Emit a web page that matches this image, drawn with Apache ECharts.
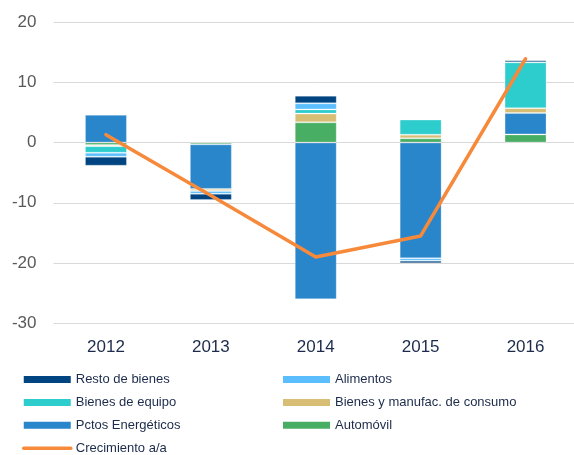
<!DOCTYPE html>
<html>
<head>
<meta charset="utf-8">
<script src="https://cdn.jsdelivr.net/npm/echarts@6/dist/echarts.min.js"></script>
<style>
  html, body { margin: 0; padding: 0; background: #fff; overflow: hidden; }
  #chart { width: 578px; height: 455px; }
</style>
</head>
<body>
<div id="chart"></div>
<script>
var years = ['2012', '2013', '2014', '2015', '2016'];
// componentes (puntos porcentuales)
var automovil   = [-0.4, -0.3, 3.35, 0.7, 1.35];
var energeticos = [4.6, -7.4, -26.0, -19.2, 3.55];
var manufac     = [-0.2, -0.35, 1.45, 0.6, 0.8];
var equipo      = [-1.1, 0, 0.7, 2.5, 7.6];
var alimentos   = [-0.65, -0.45, 1.0, -0.4, 0];
var resto       = [-1.5, -1.05, 1.27, -0.45, 0.35];
var crecimiento = [1.3, -8.8, -19.0, -15.5, 13.9];

var font = 'Liberation Sans, Arial, sans-serif';

function barSeries(name, data, color) {
    return {
        name: name,
        type: 'bar',
        stack: 'total',
        barWidth: '40%',
        data: data,
        itemStyle: {
            color: color,
            borderColor: 'rgba(255,255,255,0.25)',
            borderWidth: 1
        }
    };
}

var legendCommon = {
    orient: 'vertical',
    top: 372.5,
    padding: 0,
    height: 90,
    itemWidth: 47,
    itemHeight: 7,
    itemGap: 8.9,
    itemStyle: {borderWidth: 0},
    textStyle: {fontFamily: font, fontSize: 13, color: '#1c2b4b', lineHeight: 14}
};

var myChart = echarts.init(document.getElementById('chart'));
myChart.setOption({
    backgroundColor: '#fff',
    animation: false,
    grid: {left: 53.5, right: 0, top: 22, bottom: 131.7},
    legend: [
        Object.assign({}, legendCommon, {
            left: 22,
            data: [
                {name: 'Resto de bienes', icon: 'rect'},
                {name: 'Bienes de equipo', icon: 'rect'},
                {name: 'Pctos Energéticos', icon: 'rect'},
                {name: 'Crecimiento a/a', itemStyle: {opacity: 0}, lineStyle: {width: 3.5, cap: 'round'}}
            ]
        }),
        Object.assign({}, legendCommon, {
            left: 283,
            data: [
                {name: 'Alimentos', icon: 'rect'},
                {name: 'Bienes y manufac. de consumo', icon: 'rect'},
                {name: 'Automóvil', icon: 'rect'}
            ]
        })
    ],
    xAxis: {
        type: 'category',
        data: years,
        axisLine: {show: false},
        axisTick: {show: false},
        axisLabel: {fontFamily: font, fontSize: 17, color: '#1c2b4b', margin: 16}
    },
    yAxis: {
        type: 'value',
        min: -30,
        max: 20,
        interval: 10,
        axisLine: {show: false},
        axisTick: {show: false},
        axisLabel: {fontFamily: font, fontSize: 17, color: '#595959', margin: 17},
        splitLine: {lineStyle: {color: '#d9d9d9', width: 1}}
    },
    series: [
        barSeries('Automóvil', automovil, '#48ae64'),
        barSeries('Pctos Energéticos', energeticos, '#2a86ca'),
        barSeries('Bienes y manufac. de consumo', manufac, '#d8be75'),
        barSeries('Bienes de equipo', equipo, '#2dcccd'),
        barSeries('Alimentos', alimentos, '#5bbeff'),
        barSeries('Resto de bienes', resto, '#004481'),
        {
            name: 'Crecimiento a/a',
            type: 'line',
            data: crecimiento,
            symbol: 'none',
            z: 5,
            itemStyle: {color: '#f7893b'},
            lineStyle: {color: '#f7893b', width: 3.5, cap: 'round', join: 'round'}
        }
    ]
});
</script>
</body>
</html>
